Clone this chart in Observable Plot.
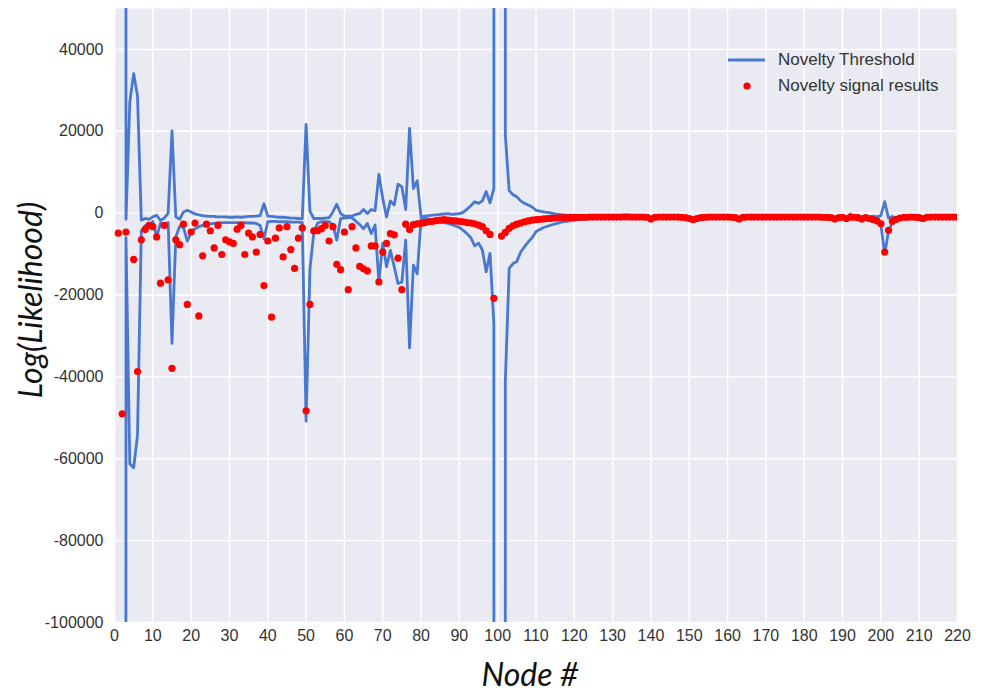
<!DOCTYPE html>
<html>
<head>
<meta charset="utf-8">
<script src="https://cdn.jsdelivr.net/npm/d3@7"></script>
<script src="https://cdn.jsdelivr.net/npm/@observablehq/plot@0.6"></script>
<style>
  body { margin: 0; background: #fff; }
  #wrap { position: relative; width: 981px; height: 694px; font-family: "Liberation Sans", Arial, sans-serif; }
  .axlabel { position: absolute; font-family: Lato, "Open Sans", sans-serif; font-style: italic; font-size: 32px; color: #111; white-space: nowrap; line-height: 1; }
  #xlabel { left: 530px; top: 674px; transform: translate(-50%, -50%); }
  #ylabel { left: 30px; top: 300px; transform: translate(-50%, -50%) rotate(-90deg); }
  #legend { position: absolute; left: 728px; top: 47px; font-size: 17px; color: #333; }
  .lrow { display: flex; align-items: center; height: 26px; }
  .lrow svg { width: 37px; height: 26px; margin-right: 13px; }
</style>
</head>
<body>
<div id="wrap">
  <div id="chart"></div>
  <div id="legend"></div>
  <div class="axlabel" id="xlabel"></div>
  <div class="axlabel" id="ylabel"></div>
</div>
<script>
// ---- data (index 0 = node 1) ----
const seriesNames = ["Novelty Threshold", "Novelty signal results"];
const xLabelText = "Node #";
const yLabelText = "Log(Likelihood)";
const xTicks = [0,10,20,30,40,50,60,70,80,90,100,110,120,130,140,150,160,170,180,190,200,210,220];
const yTicks = [-100000,-80000,-60000,-40000,-20000,0,20000,40000];

const signalValues = [
  -4900,-49000,-4600,null,-11300,-38700,-6500,-4000,-3000,-3300,
  -5800,-17100,-3000,-16300,-37900,-6500,-7700,-2700,-22300,-4600,
  -2400,-25100,-10400,-2700,-4300,-8500,-3000,-10100,-6500,-7000,
  -7400,-3900,-3000,-10100,-4900,-5800,-9500,-5200,-17700,-6800,
  -25400,-6100,-3600,-10700,-3300,-8900,-13500,-6100,-3600,-48300,
  -22300,-4300,-4300,-3800,-3000,-6800,-3300,-12500,-13800,-4600,
  -18700,-3300,-8500,-13000,-13600,-14100,-8000,-8000,-16800,-9500,
  -7400,-5000,-5300,-11000,-18700,-2700,-4000,-2800,-2600,-2500,
  -2300,-2100,-2000,-1800,-1700,-1600,-1700,-1800,-1900,-2000,
  -2100,-2300,-2400,-2600,-2900,-3300,-4300,-5200,-20800,null,
  -5600,-4700,-3700,-3100,-2700,-2400,-2100,-1900,-1700,-1600,
  -1500,-1400,-1300,-1250,-1200,-1150,-1100,-1100,-1050,-1050,
  -1000,-1000,-1000,-950,-950,-950,-950,-950,-950,-950,
  -950,-950,-900,-900,-950,-950,-950,-950,-1000,-1400,
  -1000,-950,-950,-950,-950,-950,-950,-1000,-1100,-1300,
  -1600,-1300,-1100,-1000,-950,-950,-950,-950,-950,-950,
  -1000,-1100,-1400,-1000,-950,-950,-950,-950,-950,-950,
  -950,-950,-950,-950,-950,-950,-950,-950,-950,-950,
  -950,-950,-950,-950,-1000,-1000,-1100,-1400,-1100,-1000,
  -1300,-1000,-1000,-1100,-1400,-1100,-1300,-1600,-1900,-2600,
  -9500,-4200,-2000,-1500,-1200,-1000,-1000,-950,-1000,-1100,
  -1300,-1000,-950,-950,-950,-950,-950,-950,-950,-950
];

const upperValues = [
  null,5000000,-1500,27200,34100,28700,-1700,-1300,-1500,-900,
  -500,-1800,-1200,0,20100,-900,-1500,300,700,300,
  -200,-400,-600,-700,-800,-800,-900,-900,-900,-1000,
  -1000,-900,-1000,-900,-800,-800,-700,-600,2300,-700,
  -800,-900,-1000,-1000,-1100,-1200,-1200,-1300,-1400,21700,
  500,-1300,-1300,-1300,-1200,-1100,300,2200,-100,-700,
  -700,-700,-300,-100,900,-100,900,600,9500,3600,
  -900,3000,2000,7100,6400,900,20700,6000,7900,-900,
  -700,-600,-500,-400,-300,-200,-100,-300,-200,-100,
  200,1000,1800,2800,2400,3000,5300,2500,6000,5000000,
  5000000,19000,5500,4500,4000,3000,2400,2000,1500,700,
  500,300,200,0,-200,-300,-400,-500,-600,-650,
  -700,-750,-800,-850,-900,-800,-800,-800,-800,-800,
  -800,-800,-750,-750,-800,-800,-800,-800,-850,-1250,
  -850,-800,-800,-800,-800,-800,-800,-850,-950,-1150,
  -1450,-1150,-950,-850,-800,-800,-800,-800,-800,-800,
  -850,-950,-1250,-850,-800,-800,-800,-800,-800,-800,
  -800,-800,-800,-800,-800,-800,-800,-800,-800,-800,
  -800,-800,-800,-800,-850,-850,-950,-1250,-950,-850,
  -1150,-200,-850,-950,-1250,-950,-1150,-700,-900,-600,
  2800,-1200,-800,-1300,-1050,-850,-850,-800,-850,-950,
  -1150,-850,-800,-800,-800,-800,-800,-800,-800,-800
];

const lowerValues = [
  null,-5000000,-6000,-61200,-62200,-54300,-4300,-3000,-3500,-2000,
  -5800,-2500,-2800,-2300,-31800,-5800,-3200,-3500,-6800,-4800,
  -3800,-3300,-3000,-2800,-2600,-2500,-2400,-2300,-2300,-2300,
  -2300,-2300,-2300,-2300,-2400,-2400,-2500,-3000,-6300,-2100,
  -2000,-2000,-2100,-2100,-2100,-2200,-2200,-2200,-2300,-50800,
  -13800,-4800,-2400,-2100,-2100,-2100,-2800,-6600,-1300,-1200,
  -1100,-1100,-2000,-2800,-3800,-2500,-5000,-2900,-16800,-7400,
  -13100,-9100,-13100,-17200,-16800,-6600,-32900,-12700,-14800,-1500,
  -1200,-1500,-1700,-1900,-2100,-2300,-2500,-2800,-3100,-3500,
  -4200,-5000,-6000,-8000,-7300,-9000,-14300,-9800,-27000,-5000000,
  -5000000,-41000,-13500,-12300,-11800,-9500,-8200,-7000,-6000,-4500,
  -4000,-3500,-3200,-2900,-2600,-2400,-2100,-2000,-1900,-1700,
  -1600,-1500,-1400,-1300,-1200,-1100,-1100,-1100,-1100,-1100,
  -1100,-1100,-1050,-1050,-1100,-1100,-1100,-1100,-1150,-1550,
  -1150,-1100,-1100,-1100,-1100,-1100,-1100,-1150,-1250,-1450,
  -1750,-1450,-1250,-1150,-1100,-1100,-1100,-1100,-1100,-1100,
  -1150,-1250,-1550,-1150,-1100,-1100,-1100,-1100,-1100,-1100,
  -1100,-1100,-1100,-1100,-1100,-1100,-1100,-1100,-1100,-1100,
  -1100,-1100,-1100,-1100,-1150,-1150,-1250,-1550,-1250,-1150,
  -1450,-1150,-1150,-1250,-1550,-1250,-1450,-1750,-2100,-2800,
  -10000,-4400,-2200,-1650,-1350,-1150,-1150,-1100,-1150,-1250,
  -1450,-1150,-1100,-1100,-1100,-1100,-1100,-1100,-1100,-1100
];

const lineColor = "#4878CF";
const dotColor = "#FF0000";

const nodes = signalValues.map((_, i) => i + 1);
const rows = nodes.map((n, i) => ({
  node: n,
  signal: signalValues[i],
  upper: upperValues[i] ?? null,
  lower: lowerValues[i] ?? null
}));

const chart = Plot.plot({
  width: 981,
  height: 694,
  marginLeft: 114,
  marginRight: 24,
  marginTop: 8,
  marginBottom: 72,
  x: {domain: [0, 220]},
  y: {domain: [-100000, 50000]},
  style: {fontFamily: "'Liberation Sans', Arial, sans-serif", fontSize: "16px", color: "#333", background: "white"},
  marks: [
    Plot.frame({fill: "#EAEAF2", stroke: "none"}),
    Plot.gridX(xTicks, {stroke: "#ffffff", strokeOpacity: 1, strokeWidth: 1.4}),
    Plot.gridY(yTicks, {stroke: "#ffffff", strokeOpacity: 1, strokeWidth: 1.4}),
    Plot.axisX(xTicks, {tickSize: 0, tickPadding: 7, label: null, fontSize: 16, tickFormat: d => String(d)}),
    Plot.axisY(yTicks, {tickSize: 0, tickPadding: 11, label: null, fontSize: 16, tickFormat: d => String(d)}),
    Plot.line(rows, {x: "node", y: "upper", stroke: lineColor, strokeWidth: 2.8, clip: true}),
    Plot.line(rows, {x: "node", y: "lower", stroke: lineColor, strokeWidth: 2.8, clip: true}),
    Plot.dot(rows, {x: "node", y: "signal", r: 3.6, fill: dotColor, stroke: "none", clip: true})
  ]
});
document.getElementById("chart").appendChild(chart);

document.getElementById("xlabel").textContent = xLabelText;
document.getElementById("ylabel").textContent = yLabelText;

const legend = document.getElementById("legend");
legend.innerHTML =
  `<div class="lrow"><svg viewBox="0 0 37 26"><line x1="0" y1="13" x2="37" y2="13" stroke="${lineColor}" stroke-width="2.8"/></svg><span>${seriesNames[0]}</span></div>` +
  `<div class="lrow"><svg viewBox="0 0 37 26"><circle cx="19" cy="13" r="3.6" fill="${dotColor}"/></svg><span>${seriesNames[1]}</span></div>`;
</script>
</body>
</html>
